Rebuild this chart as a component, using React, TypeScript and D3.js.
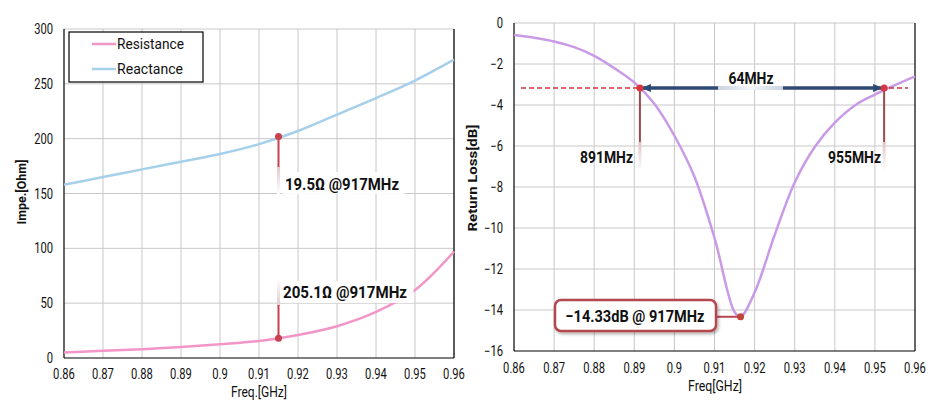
import React from "react";
import * as d3 from "d3";

const freqTicks = [0.86, 0.87, 0.88, 0.89, 0.9, 0.91, 0.92, 0.93, 0.94, 0.95, 0.96];
const impTicks = [0, 50, 100, 150, 200, 250, 300];
const rlTicks = [0, -2, -4, -6, -8, -10, -12, -14, -16];

const impFreq = [0.86, 0.87, 0.88, 0.89, 0.9, 0.91, 0.92, 0.93, 0.94, 0.95, 0.96];
const reactance = [158, 165, 172, 179, 186, 195, 207, 222, 237, 253, 272];
const resistance = [5, 6.5, 8, 10, 12.5, 15.5, 21, 29, 42, 62, 97];
const impMarkerFreq = 0.915;
const impMarkerReactance = 202;
const impMarkerResistance = 18;

const rlFreq = [0.86, 0.865, 0.87, 0.875, 0.88, 0.885, 0.89, 0.895, 0.9, 0.905, 0.91, 0.915, 0.9165, 0.92, 0.925, 0.93, 0.935, 0.94, 0.945, 0.95, 0.955, 0.96];
const returnLoss = [-0.59, -0.72, -0.9, -1.18, -1.6, -2.2, -2.9, -3.94, -5.5, -7.5, -10.48, -14.1, -14.33, -13.15, -10.34, -7.78, -6.05, -4.86, -4.02, -3.49, -3.03, -2.6];
const bwLevel = -3.17;
const bwLow = 0.8914;
const bwHigh = 0.9523;
const minFreq = 0.9165;
const minLoss = -14.33;

const FONT = "Roboto, 'Liberation Sans', sans-serif";

type TProps = {
  x: number; y: number; children: React.ReactNode; size?: number; bold?: boolean;
  anchor?: "start" | "middle" | "end"; len?: number; sx?: number; rot?: number;
};
function T({ x, y, children, size = 14, bold = false, anchor = "start", len, sx = 0.8, rot = 0 }: TProps) {
  const extra = len ? { textLength: len, lengthAdjust: "spacingAndGlyphs" as const } : {};
  return (
    <text
      transform={`translate(${x},${y}) rotate(${rot}) scale(${len ? 1 : sx},1)`}
      textAnchor={anchor}
      fontSize={size}
      fontWeight={bold ? "bold" : "normal"}
      fill="#111"
      {...extra}
    >
      {children}
    </text>
  );
}

function ImpedanceChart() {
  const x = d3.scaleLinear().domain([0.86, 0.96]).range([64, 454]);
  const y = d3.scaleLinear().domain([0, 300]).range([358, 29]);
  const line = d3.line<number>().x((_, i) => x(impFreq[i])).y((d) => y(d)).curve(d3.curveCatmullRom.alpha(0.5));
  const mx = x(impMarkerFreq);
  const rxY = y(impMarkerReactance);
  const rsY = y(impMarkerResistance);
  return (
    <g fontFamily={FONT}>
      <defs>
        <linearGradient id="fadeDown" x1="0" y1="0" x2="0" y2="1">
          <stop offset="0" stopColor="#e4c8cc" stopOpacity="1" />
          <stop offset="1" stopColor="#ffffff" stopOpacity="1" />
        </linearGradient>
        <linearGradient id="fadeUp" x1="0" y1="1" x2="0" y2="0">
          <stop offset="0" stopColor="#e4c8cc" stopOpacity="1" />
          <stop offset="1" stopColor="#ffffff" stopOpacity="1" />
        </linearGradient>
      </defs>
      {freqTicks.slice(1).map((t) => (
        <line key={"vx" + t} x1={x(t)} x2={x(t)} y1={y(300)} y2={y(0)} stroke="#c8c8c8" strokeWidth={1} />
      ))}
      {impTicks.slice(1).map((t) => (
        <line key={"hy" + t} x1={x(0.86)} x2={x(0.96)} y1={y(t)} y2={y(t)} stroke="#c8c8c8" strokeWidth={1} />
      ))}
      <line x1={x(0.86)} x2={x(0.86)} y1={y(300)} y2={y(0)} stroke="#000" strokeWidth={1.2} />
      <line x1={x(0.96)} x2={x(0.96)} y1={y(300)} y2={y(0)} stroke="#000" strokeWidth={1.2} />
      <line x1={x(0.86)} x2={x(0.96)} y1={y(0)} y2={y(0)} stroke="#000" strokeWidth={1.2} />
      {impTicks.map((t) => (
        <T key={"yl" + t} x={53} y={y(t) + 5} anchor="end">{t}</T>
      ))}
      {freqTicks.map((t) => (
        <T key={"xl" + t} x={x(t)} y={379} anchor="middle">{d3.format("~g")(t)}</T>
      ))}
      <T x={259} y={397} anchor="middle" len={56}>Freq.[GHz]</T>
      <T x={26} y={192} anchor="middle" bold size={13} len={65} rot={-90}>Impe.[Ohm]</T>

      <path d={line(reactance) || ""} fill="none" stroke="#a6cfea" strokeWidth={2.5} />
      <path d={line(resistance) || ""} fill="none" stroke="#f296c8" strokeWidth={2.5} />

      {/* legend */}
      <rect x={69} y={32} width={134} height={50} fill="#fff" stroke="#000" strokeWidth={1.2} />
      <line x1={92} x2={116} y1={44} y2={44} stroke="#f296c8" strokeWidth={2.5} />
      <line x1={92} x2={116} y1={69} y2={69} stroke="#a6cfea" strokeWidth={2.5} />
      <T x={117} y={49} size={15} len={67}>Resistance</T>
      <T x={117} y={74} size={15} len={66}>Reactance</T>

      {/* reactance marker */}
      <rect x={mx - 1.5} y={167} width={3} height={27} fill="url(#fadeDown)" />
      <line x1={mx} x2={mx} y1={rxY} y2={167} stroke="#c8414f" strokeWidth={2} />
      <rect x={mx + 4} y={172} width={122} height={22} fill="#fff" opacity={0.9} />
      <circle cx={mx} cy={rxY} r={3.5} fill="#c8414f" />
      <T x={285} y={190} size={17} bold len={114}>19.5Ω @917MHz</T>

      {/* resistance marker */}
      <rect x={mx - 1.5} y={278} width={3} height={28} fill="url(#fadeUp)" />
      <line x1={mx} x2={mx} y1={rsY} y2={305} stroke="#c8414f" strokeWidth={2} />
      <rect x={mx + 3} y={281} width={132} height={22} fill="#fff" opacity={0.9} />
      <circle cx={mx} cy={rsY} r={3.5} fill="#c8414f" />
      <T x={283} y={298} size={17} bold len={124}>205.1Ω @917MHz</T>
    </g>
  );
}

function ReturnLossChart() {
  const x = d3.scaleLinear().domain([0.86, 0.96]).range([514, 915]);
  const y = d3.scaleLinear().domain([0, -16]).range([23, 351]);
  const line = d3.line<number>().x((_, i) => x(rlFreq[i])).y((d) => y(d)).curve(d3.curveCatmullRom.alpha(0.5));
  const ly = y(bwLevel);
  return (
    <g fontFamily={FONT}>
      <defs>
        <linearGradient id="fadeDown2" x1="0" y1="0" x2="0" y2="1">
          <stop offset="0" stopColor="#e0c4c4" />
          <stop offset="1" stopColor="#ffffff" />
        </linearGradient>
        <linearGradient id="gapGrad" x1="0" y1="0" x2="1" y2="0">
          <stop offset="0" stopColor="#c9d3df" />
          <stop offset="0.5" stopColor="#f4f6f8" />
          <stop offset="1" stopColor="#c9d3df" />
        </linearGradient>
        <marker id="arrL" markerWidth="10" markerHeight="8" refX="1" refY="4" orient="auto" markerUnits="userSpaceOnUse">
          <path d="M10,0 L0,4 L10,8 Z" fill="#2c4a73" />
        </marker>
        <marker id="arrR" markerWidth="10" markerHeight="8" refX="9" refY="4" orient="auto" markerUnits="userSpaceOnUse">
          <path d="M0,0 L10,4 L0,8 Z" fill="#2c4a73" />
        </marker>
        <filter id="shadow" x="-10%" y="-20%" width="120%" height="150%">
          <feDropShadow dx="1.5" dy="2" stdDeviation="1.5" floodColor="#000" floodOpacity="0.3" />
        </filter>
      </defs>
      {freqTicks.slice(1, -1).map((t) => (
        <line key={"vx" + t} x1={x(t)} x2={x(t)} y1={y(0)} y2={y(-16)} stroke="#c8c8c8" strokeWidth={1} />
      ))}
      {rlTicks.slice(0, -1).map((t) => (
        <line key={"hy" + t} x1={x(0.86)} x2={x(0.96)} y1={y(t)} y2={y(t)} stroke="#c8c8c8" strokeWidth={1} />
      ))}
      <line x1={x(0.86)} x2={x(0.86)} y1={y(0)} y2={y(-16)} stroke="#000" strokeWidth={1.2} />
      <line x1={x(0.96)} x2={x(0.96)} y1={y(0)} y2={y(-16)} stroke="#000" strokeWidth={1.2} />
      <line x1={x(0.86)} x2={x(0.96)} y1={y(-16)} y2={y(-16)} stroke="#000" strokeWidth={1.2} />
      {rlTicks.map((t) => (
        <T key={"yl" + t} x={503} y={y(t) + 5} anchor="end">{t === 0 ? "0" : "−" + Math.abs(t)}</T>
      ))}
      {freqTicks.map((t) => (
        <T key={"xl" + t} x={x(t)} y={373} anchor="middle">{d3.format("~g")(t)}</T>
      ))}
      <T x={715} y={391} anchor="middle" len={54}>Freq[GHz]</T>
      <T x={477} y={178} anchor="middle" bold size={13} len={107} rot={-90}>Return Loss[dB]</T>

      <path d={line(returnLoss) || ""} fill="none" stroke="#c99be6" strokeWidth={2.5} />

      {/* -3dB dashed line */}
      <line x1={521} x2={908} y1={ly} y2={ly} stroke="#d0343c" strokeWidth={1.5} strokeDasharray="5,3" />
      {/* bandwidth arrow */}
      <line x1={x(bwLow) + 2} x2={x(bwHigh) - 2} y1={ly} y2={ly} stroke="#2c4a73" strokeWidth={3.5} markerStart="url(#arrL)" markerEnd="url(#arrR)" />
      <rect x={718} y={ly - 2} width={65} height={4} fill="url(#gapGrad)" />
      <T x={751} y={84} anchor="middle" size={17} bold len={45}>64MHz</T>

      {/* vertical drop lines */}
      {[bwLow, bwHigh].map((f) => (
        <g key={"d" + f}>
          <rect x={x(f) - 1.5} y={142} width={3} height={29} fill="url(#fadeDown2)" />
          <line x1={x(f)} x2={x(f)} y1={ly} y2={142} stroke="#9b4a4a" strokeWidth={2} />
          <circle cx={x(f)} cy={ly} r={3.5} fill="#d9373f" />
        </g>
      ))}
      <T x={633} y={163} anchor="end" size={17} bold len={53}>891MHz</T>
      <T x={881} y={163} anchor="end" size={17} bold len={53}>955MHz</T>

      {/* minimum callout */}
      <line x1={716} x2={x(minFreq)} y1={y(minLoss)} y2={y(minLoss)} stroke="#b5474f" strokeWidth={2} />
      <rect x={555} y={300} width={161} height={31} rx={6} ry={6} fill="#fff" stroke="#b5474f" strokeWidth={2.5} filter="url(#shadow)" />
      <circle cx={x(minFreq)} cy={y(minLoss)} r={3.5} fill="#c0443a" />
      <T x={635} y={322} anchor="middle" size={17} bold len={139}>−14.33dB @ 917MHz</T>
    </g>
  );
}

export default function App() {
  return (
    <svg width={931} height={411} style={{ position: "absolute", left: 0, top: 0, background: "#fff" }}>
      <rect width={931} height={411} fill="#fff" />
      <ImpedanceChart />
      <ReturnLossChart />
    </svg>
  );
}
